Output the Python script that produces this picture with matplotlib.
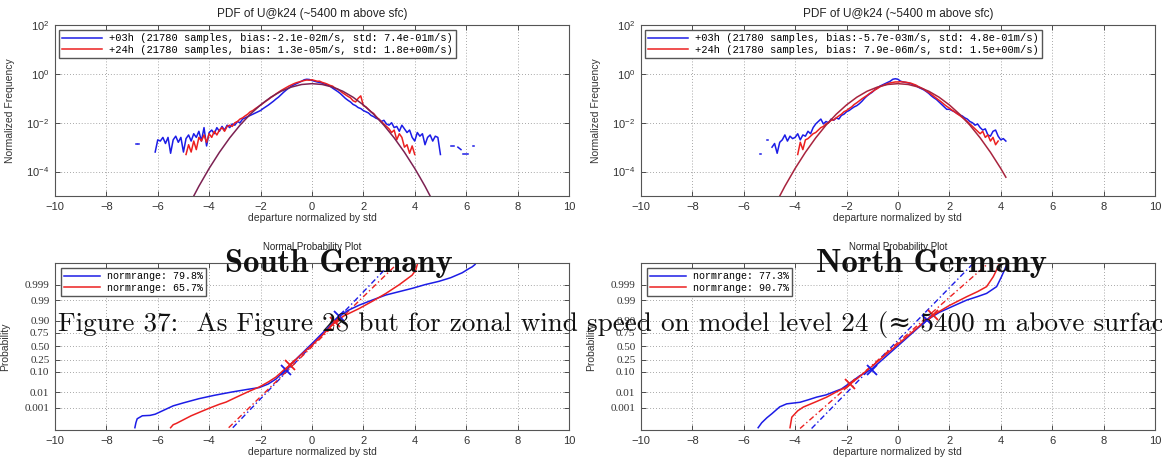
import numpy as np
import matplotlib
matplotlib.use("Agg")
import matplotlib.pyplot as plt
from matplotlib.ticker import NullLocator
from statistics import NormalDist

plt.rcParams["font.family"] = ["Liberation Sans", "DejaVu Sans"]
plt.rcParams["mathtext.fontset"] = "cm"

BLUE = "#1c1ce6"
RED = "#ec2020"

# ---------------- PDF panels (log10 of normalized frequency, 0.1 grid) ----------------
s03_start = -6.1
s03_logf = [-3.2, -2.7, -2.75, -2.6, -2.85, -2.6, -3.25, -2.7, -2.55, -2.8,
            -2.6, -3.2, -2.65, -2.5, -2.75, -2.45, -2.6, -2.35, -2.75, -2.2,
            -2.95, -2.4, -2.3, -2.45, -2.2, -2.35, -2.15, -2.3, -2.1, -2.2,
            -2.05, -2.1, -1.95, -2.0, -1.85, -1.8, -1.75, -1.7, -1.65, -1.6,
            -1.55, -1.5, -1.42, -1.35, -1.28, -1.2, -1.12, -1.03, -0.95, -0.85,
            -0.75, -0.66, -0.58, -0.5, -0.45, -0.4, -0.35, -0.3, -0.24, -0.22,
            -0.23, -0.27, -0.3, -0.33, -0.35, -0.38, -0.42, -0.45, -0.5, -0.58,
            -0.65, -0.72, -0.8, -0.9, -1.0, -1.08, -1.15, -1.25, -1.3, -1.38,
            -1.42, -1.5, -1.55, -1.6, -1.7, -1.75, -1.82, -1.85, -1.95, -1.9,
            -2.05, -2.1, -2.0, -2.2, -2.15, -2.35, -2.1, -2.25, -2.4, -2.3,
            -2.6, -2.75, -2.4, -2.55, -2.45, -2.9, -2.6, -2.5, -2.75, -2.55,
            -2.6, -3.3]
# isolated blue fragments beyond the main curve (x, log10 f)
s03_frag_x = [[-6.85, -6.82], [-6.76, -6.73], [5.42, 5.52], [5.68, 5.8], [5.88, 6.06], [6.28, 6.31]]
s03_frag_y = [[-2.85, -2.85], [-2.85, -2.85], [-2.97, -2.97], [-3.0, -3.1], [-3.3, -3.3], [-2.95, -2.95]]

s24_start = -4.9
s24_logf = [-3.3, -2.9, -3.2, -2.75, -3.1, -2.6, -2.75, -2.5, -2.8, -2.45,
            -2.6, -2.35, -2.5, -2.3, -2.2, -2.35, -2.15, -2.1, -2.15, -2.0,
            -1.95, -1.85, -1.8, -1.72, -1.65, -1.55, -1.5, -1.42, -1.35, -1.28,
            -1.2, -1.12, -1.05, -0.97, -0.9, -0.82, -0.75, -0.68, -0.62, -0.56,
            -0.5, -0.45, -0.4, -0.36, -0.33, -0.3, -0.27, -0.25, -0.26, -0.24,
            -0.27, -0.3, -0.3, -0.35, -0.38, -0.42, -0.47, -0.5, -0.58, -0.62,
            -0.7, -0.78, -0.85, -0.92, -0.98, -1.1, -1.15, -1.0, -0.9, -1.3,
            -1.35, -1.45, -1.55, -1.62, -1.75, -1.85, -1.95, -2.05, -2.15, -2.25,
            -2.4, -2.3, -2.7, -2.45, -2.6, -3.0, -2.9, -3.25, -2.95, -3.3]

n03_start = -4.9
n03_logf = [-3.0, -2.85, -3.25, -2.8, -2.7, -2.5, -2.75, -2.55, -2.65, -2.6,
            -2.45, -2.7, -2.5, -2.55, -2.35, -2.45, -2.2, -2.05, -1.95, -1.85,
            -2.05, -1.95, -2.0, -1.85, -1.9, -1.8, -1.85, -1.7, -1.65, -1.55,
            -1.5, -1.42, -1.35, -1.3, -1.22, -1.12, -1.0, -0.9, -0.82, -0.75,
            -0.65, -0.58, -0.5, -0.45, -0.4, -0.35, -0.3, -0.22, -0.2, -0.22,
            -0.3, -0.33, -0.35, -0.37, -0.4, -0.45, -0.48, -0.55, -0.6, -0.65,
            -0.72, -0.8, -0.9, -0.98, -1.05, -1.15, -1.25, -1.35, -1.45, -1.45,
            -1.5, -1.55, -1.62, -1.68, -1.72, -1.8, -1.85, -1.95, -2.0, -2.1,
            -2.05, -2.2, -2.3, -2.25, -2.5, -2.55, -2.35, -2.3, -2.55, -2.7,
            -2.65, -2.75]
n03_frag_x = [[-5.35, -5.31], [-5.09, -5.05]]
n03_frag_y = [[-3.3, -3.3], [-2.7, -2.7]]

n24_start = -3.9
n24_logf = [-3.3, -2.8, -3.1, -2.7, -2.65, -2.55, -2.45, -2.4, -2.3, -2.2,
            -2.15, -2.05, -2.0, -1.9, -1.88, -1.8, -1.72, -1.65, -1.55, -1.5,
            -1.42, -1.35, -1.25, -1.18, -1.1, -1.02, -0.95, -0.88, -0.8, -0.73,
            -0.66, -0.6, -0.53, -0.48, -0.44, -0.4, -0.37, -0.35, -0.33, -0.33,
            -0.32, -0.33, -0.34, -0.36, -0.38, -0.42, -0.46, -0.52, -0.57, -0.62,
            -0.7, -0.76, -0.84, -0.92, -1.0, -1.08, -1.16, -1.25, -1.33, -1.4,
            -1.48, -1.55, -1.63, -1.7, -1.78, -1.86, -1.95, -2.05, -2.15, -2.25,
            -2.35, -2.45, -2.35, -2.6, -2.5, -2.75, -2.6, -2.9, -2.75]

# reference (normal) curve
ref_x = [-4.8, -4.4, -4.0, -3.6, -3.2, -2.8, -2.4, -2.0, -1.6, -1.2, -0.8, -0.4, 0.0,
         0.4, 0.8, 1.2, 1.6, 2.0, 2.4, 2.8, 3.2, 3.6, 4.0, 4.2, 4.4, 4.8]
ref_logf = [-5.40, -4.60, -3.87, -3.21, -2.62, -2.10, -1.65, -1.27, -0.955, -0.71, -0.54, -0.434, -0.40,
            -0.434, -0.54, -0.71, -0.955, -1.27, -1.65, -2.10, -2.62, -3.21, -3.87, -4.23, -4.60, -5.40]
ref_xmax = [4.8, 4.2]

pdf_legends = [
    ["+03h (21780 samples, bias:-2.1e-02m/s, std: 7.4e-01m/s)",
     "+24h (21780 samples, bias: 1.3e-05m/s, std: 1.8e+00m/s)"],
    ["+03h (21780 samples, bias:-5.7e-03m/s, std: 4.8e-01m/s)",
     "+24h (21780 samples, bias: 7.9e-06m/s, std: 1.5e+00m/s)"],
]
ref_colors = ["#7c2152", "#a8243e"]

# ---------------- normal probability panels (departure, normal quantile) ----------------
ps03_x = [-6.89, -6.85, -6.8, -6.6, -6.3, -6.1, -5.9, -5.6, -5.4, -5.0, -4.4, -3.8, -3.1, -2.5,
          -2.05, -1.7, -1.4, -1.2, -1.0, -0.5, 0.0, 0.5, 1.07, 1.4, 1.84, 2.4, 2.88, 3.4, 3.92,
          4.4, 4.95, 5.4, 5.85, 6.1, 6.24, 6.35]
ps03_z = [-4.1, -3.85, -3.65, -3.5, -3.48, -3.42, -3.3, -3.12, -3.0, -2.85, -2.64, -2.47, -2.3, -2.17,
          -2.08, -1.9, -1.65, -1.4, -1.15, -0.5, 0.13, 0.78, 1.5, 1.8, 2.07, 2.35, 2.58, 2.75, 2.92,
          3.1, 3.27, 3.45, 3.7, 3.9, 4.0, 4.12]
ps24_x = [-5.5, -5.4, -5.27, -5.0, -4.7, -4.37, -4.0, -3.6, -3.34, -3.0, -2.5, -2.05, -1.7, -1.4,
          -1.1, -0.88, -0.4, 0.0, 0.4, 0.8, 1.2, 1.84, 2.4, 2.88, 3.4, 3.9, 4.04, 4.1]
ps24_z = [-4.1, -3.95, -3.88, -3.7, -3.5, -3.32, -3.12, -2.92, -2.81, -2.6, -2.3, -2.05, -1.8, -1.55,
          -1.2, -0.97, -0.4, 0.05, 0.55, 1.1, 1.5, 1.9, 2.3, 2.66, 3.1, 3.58, 3.84, 4.12]
pn03_x = [-5.44, -5.3, -5.1, -4.91, -4.6, -4.33, -3.81, -3.5, -3.16, -2.8, -2.52, -2.2, -2.0, -1.5,
          -1.02, 0.0, 1.12, 1.6, 2.2, 2.67, 3.1, 3.45, 3.84, 4.03, 4.2, 4.28]
pn03_z = [-4.1, -3.85, -3.6, -3.4, -3.05, -2.9, -2.82, -2.7, -2.56, -2.45, -2.31, -2.15, -1.97, -1.5,
          -1.15, 0.02, 1.31, 1.7, 2.05, 2.32, 2.5, 2.66, 3.0, 3.5, 4.0, 4.18]
pn24_x = [-4.2, -4.13, -3.9, -3.68, -3.2, -2.77, -2.4, -2.0, -1.87, -1.0, 0.0, 1.0, 1.37, 2.0,
          2.67, 3.1, 3.45, 3.71, 3.9, 3.95, 3.85]
pn24_z = [-4.1, -3.57, -3.25, -3.06, -2.8, -2.56, -2.3, -2.05, -1.92, -1.0, 0.1, 1.2, 1.57, 2.05,
          2.49, 2.75, 3.0, 3.5, 4.0, 4.12, 4.2]

# dash-dot reference lines (end points) and quantile markers
fit_s03 = ([-3.08, 2.82], [-4.1, 3.84])
fit_s24 = ([-3.24, 3.27], [-4.1, 4.09])
fit_n03 = ([-3.36, 2.93], [-4.14, 4.17])
fit_n24 = ([-3.81, 3.51], [-4.14, 4.17])
mark_s03 = ([-1.0, 1.07], [-1.2, 1.52])
mark_s24 = ([-0.85, 0.9], [-0.96, 1.2])
mark_n03 = ([-1.02, 1.12], [-1.18, 1.31])
mark_n24 = ([-1.87, 1.37], [-1.92, 1.57])

norm_legends = [["normrange: 79.8%", "normrange: 65.7%"],
                ["normrange: 77.3%", "normrange: 90.7%"]]
prob_ticks = [0.001, 0.01, 0.10, 0.25, 0.50, 0.75, 0.90, 0.99, 0.999]
prob_labels = ["0.001", "0.01", "0.10", "0.25", "0.50", "0.75", "0.90", "0.99", "0.999"]

caption = "Figure 37:  As Figure 28 but for zonal wind speed on model level 24 (≈ 5400 m above surface)."
regions = ["South Germany", "North Germany"]


def grid_x(start, vals):
    return start + 0.1 * np.arange(len(vals))


def style(ax):
    ax.set_xlim(-10, 10)
    ax.set_xticks(np.arange(-10, 11, 2))
    ax.tick_params(direction="in", top=True, right=True, length=3.5, width=0.6,
                   colors="#333333", labelsize=8, pad=4)
    for s in ax.spines.values():
        s.set_color("#555555")
        s.set_linewidth(0.8)
    ax.grid(True, color="#8a8a8a", linestyle=(0, (1, 2.5)), linewidth=0.6)
    ax.set_xlabel("departure normalized by std", fontsize=7.5, color="#333333")
    ax.xaxis.set_label_coords(0.5, -0.1)


fig = plt.figure(figsize=(11.62, 4.61), dpi=100)
top_axes = [fig.add_axes([0.0473, 0.5748, 0.4423, 0.3709]),
            fig.add_axes([0.5516, 0.5748, 0.4423, 0.3709])]
bot_axes = [fig.add_axes([0.0473, 0.0662, 0.4423, 0.3633]),
            fig.add_axes([0.5516, 0.0662, 0.4423, 0.3633])]

pdf_series = [
    ((s03_start, s03_logf, s03_frag_x, s03_frag_y), (s24_start, s24_logf)),
    ((n03_start, n03_logf, n03_frag_x, n03_frag_y), (n24_start, n24_logf)),
]

for i, ax in enumerate(top_axes):
    ax.set_yscale("log")
    (b_start, b_vals, fx, fy), (r_start, r_vals) = pdf_series[i]
    lb, = ax.plot(grid_x(b_start, b_vals), 10 ** np.array(b_vals), color=BLUE, lw=1.1)
    for xs, ys in zip(fx, fy):
        ax.plot(xs, 10 ** np.array(ys), color=BLUE, lw=1.1)
    lr, = ax.plot(grid_x(r_start, r_vals), 10 ** np.array(r_vals), color=RED, lw=1.1)
    rx = np.array(ref_x)
    keep = rx <= ref_xmax[i] + 1e-9
    ax.plot(rx[keep], 10 ** np.array(ref_logf)[keep], color=ref_colors[i], lw=1.1)
    style(ax)
    ax.set_ylim(1e-5, 1e2)
    ax.set_yticks([1e-4, 1e-2, 1e0, 1e2])
    ax.yaxis.set_minor_locator(NullLocator())
    ax.set_ylabel("Normalized Frequency", fontsize=7.5, color="#333333")
    ax.yaxis.set_label_coords(-0.078, 0.5)
    ax.set_title("PDF of U@k24 (~5400 m above sfc)", fontsize=8.5, color="#222222", pad=5.5)
    ax.legend([lb, lr], pdf_legends[i], loc="upper left", bbox_to_anchor=(0.008, 0.97),
              borderaxespad=0, prop={"family": "Liberation Mono", "size": 7.5},
              handlelength=3.8, handletextpad=0.7, fancybox=False, edgecolor="#555555",
              framealpha=1, borderpad=0.3, labelspacing=0.12)

prob_series = [
    ((ps03_x, ps03_z), (ps24_x, ps24_z), fit_s03, fit_s24, mark_s03, mark_s24),
    ((pn03_x, pn03_z), (pn24_x, pn24_z), fit_n03, fit_n24, mark_n03, mark_n24),
]
nd = NormalDist()
for i, ax in enumerate(bot_axes):
    (bx, bz), (rx2, rz), fb, fr, mb, mr = prob_series[i]
    ax.plot(fb[0], fb[1], color=BLUE, lw=1.0, linestyle=(0, (4, 2, 1, 2)))
    ax.plot(fr[0], fr[1], color=RED, lw=1.0, linestyle=(0, (4, 2, 1, 2)))
    lb, = ax.plot(bx, bz, color=BLUE, lw=1.1)
    lr, = ax.plot(rx2, rz, color=RED, lw=1.1)
    ax.plot(mb[0], mb[1], "x", color=BLUE, ms=7, mew=1.3)
    ax.plot(mr[0], mr[1], "x", color=RED, ms=7, mew=1.3)
    style(ax)
    ax.set_ylim(-4.24, 4.19)
    ax.set_yticks([nd.inv_cdf(p) for p in prob_ticks])
    ax.set_yticklabels(prob_labels, fontfamily="Liberation Serif", fontsize=8)
    ax.set_ylabel("Probability", fontsize=7.5, color="#333333")
    ax.yaxis.set_label_coords(-0.088, 0.5)
    ax.set_title("Normal Probability Plot", fontsize=7, color="#222222", pad=9.5)
    ax.legend([lb, lr], norm_legends[i], loc="upper left", bbox_to_anchor=(0.012, 0.97),
              borderaxespad=0, prop={"family": "Liberation Mono", "size": 7.2},
              handlelength=3.6, handletextpad=0.7, fancybox=False, edgecolor="#555555",
              framealpha=1, borderpad=0.3, labelspacing=0.15)

# overlaid text from the scanned page
fig.text(338.5 / 1162, 1 - 272 / 461, regions[0], family=["cmb10", "DejaVu Serif"], fontsize=23.5,
         ha="center", va="baseline", color="#111111", zorder=10)
fig.text(931 / 1162, 1 - 272 / 461, regions[1], family=["cmb10", "DejaVu Serif"], fontsize=23.5,
         ha="center", va="baseline", color="#111111", zorder=10)
fig.text(58 / 1162, 1 - 331 / 461, caption, family=["cmr10", "DejaVu Serif"], fontsize=19.6,
         ha="left", va="baseline", color="#111111", zorder=10)

fig.savefig("out.png", dpi=100)
